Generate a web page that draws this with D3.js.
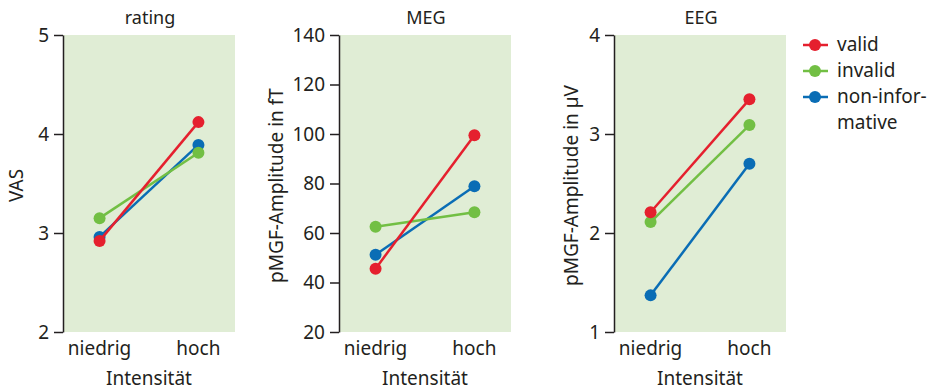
<!DOCTYPE html>
<html>
<head>
<meta charset="utf-8">
<script src="https://cdn.jsdelivr.net/npm/d3@7.9.0/dist/d3.min.js"></script>
<style>
  body { margin: 0; background: #fff; }
  text { font-family: "Noto Sans", sans-serif; fill: #231f20; }
</style>
</head>
<body>
<svg id="chart" width="935" height="390"></svg>
<script>
// Data
const categories = ['niedrig', 'hoch'];
const seriesNames = ['valid', 'invalid', 'non-informative'];
const seriesColors = ['#e5202e', '#72bf44', '#0a6db5'];

const ratingValid = [2.92, 4.12];
const ratingInvalid = [3.15, 3.81];
const ratingNonInf = [2.96, 3.89];

const megValid = [45.6, 99.5];
const megInvalid = [62.5, 68.4];
const megNonInf = [51.2, 78.9];

const eegValid = [2.21, 3.35];
const eegInvalid = [2.11, 3.09];
const eegNonInf = [1.37, 2.70];

const panels = [
  { title: 'rating', ylabel: 'VAS', domain: [2, 5], ticks: [2, 3, 4, 5],
    series: [ratingValid, ratingInvalid, ratingNonInf], left: 63, labelX: 16 },
  { title: 'MEG', ylabel: 'pMGF-Amplitude in fT', domain: [20, 140], ticks: [20, 40, 60, 80, 100, 120, 140],
    series: [megValid, megInvalid, megNonInf], left: 339, labelX: 276 },
  { title: 'EEG', ylabel: 'pMGF-Amplitude in µV', domain: [1, 4], ticks: [1, 2, 3, 4],
    series: [eegValid, eegInvalid, eegNonInf], left: 614, labelX: 571 }
];

const svg = d3.select('#chart');
const plotTop = 35, plotBottom = 332, panelW = 172;
// draw order: blue under green under red
const drawOrder = [2, 1, 0];

panels.forEach(p => {
  const x = d3.scalePoint().domain(categories).range([p.left, p.left + panelW]).padding(0.37);
  const y = d3.scaleLinear().domain(p.domain).range([plotBottom, plotTop]);
  const g = svg.append('g');

  g.append('rect')
    .attr('x', p.left).attr('y', plotTop)
    .attr('width', panelW).attr('height', plotBottom - plotTop)
    .attr('fill', '#e0edd5');

  const yAxis = g.append('g')
    .attr('transform', `translate(${p.left},0)`)
    .call(d3.axisLeft(y).tickValues(p.ticks).tickFormat(d3.format('d'))
      .tickSize(9).tickPadding(5).tickSizeOuter(0));
  yAxis.select('.domain').attr('stroke', '#231f20').attr('stroke-width', 1.5);
  yAxis.selectAll('.tick line').attr('stroke', '#231f20').attr('stroke-width', 1.5);
  yAxis.selectAll('.tick text').style('font-size', '19px')
    .style('font-family', '"Noto Sans", sans-serif').attr('fill', '#231f20');

  g.selectAll('.xlab').data(categories).enter().append('text')
    .attr('x', d => x(d)).attr('y', 355)
    .attr('text-anchor', 'middle').style('font-size', '19px')
    .text(d => d);

  g.append('text')
    .attr('x', p.left + panelW / 2).attr('y', 385)
    .attr('text-anchor', 'middle').style('font-size', '19px')
    .text('Intensität');

  g.append('text')
    .attr('x', p.left + panelW / 2 + 1).attr('y', 24)
    .attr('text-anchor', 'middle').style('font-size', '18px')
    .text(p.title);

  g.append('text')
    .attr('transform', `translate(${p.labelX},${(plotTop + plotBottom) / 2 + 2}) rotate(-90)`)
    .attr('text-anchor', 'middle').attr('dominant-baseline', 'central')
    .style('font-size', '19px')
    .text(p.ylabel);

  const line = d3.line().x((d, i) => x(categories[i])).y(d => y(d));
  drawOrder.forEach(si => {
    const vals = p.series[si];
    g.append('path').datum(vals)
      .attr('d', line).attr('fill', 'none')
      .attr('stroke', seriesColors[si]).attr('stroke-width', 2.5);
    g.selectAll(null).data(vals).enter().append('circle')
      .attr('cx', (d, i) => x(categories[i])).attr('cy', d => y(d))
      .attr('r', 6).attr('fill', seriesColors[si]);
  });
});

// Legend
const legend = svg.append('g');
const legendY = d3.scalePoint().domain(seriesNames).range([45, 97]);
seriesNames.forEach((name, i) => {
  const yy = legendY(name);
  legend.append('line').attr('x1', 803).attr('x2', 828).attr('y1', yy).attr('y2', yy)
    .attr('stroke', seriesColors[i]).attr('stroke-width', 2.5);
  legend.append('circle').attr('cx', 815).attr('cy', yy).attr('r', 6).attr('fill', seriesColors[i]);
  const t = legend.append('text').attr('x', 837).attr('y', yy + 6).style('font-size', '19px');
  if (name === 'non-informative') {
    t.append('tspan').attr('x', 837).text('non-infor-');
    t.append('tspan').attr('x', 837).attr('dy', 26).text('mative');
  } else {
    t.text(name);
  }
});
</script>
</body>
</html>
